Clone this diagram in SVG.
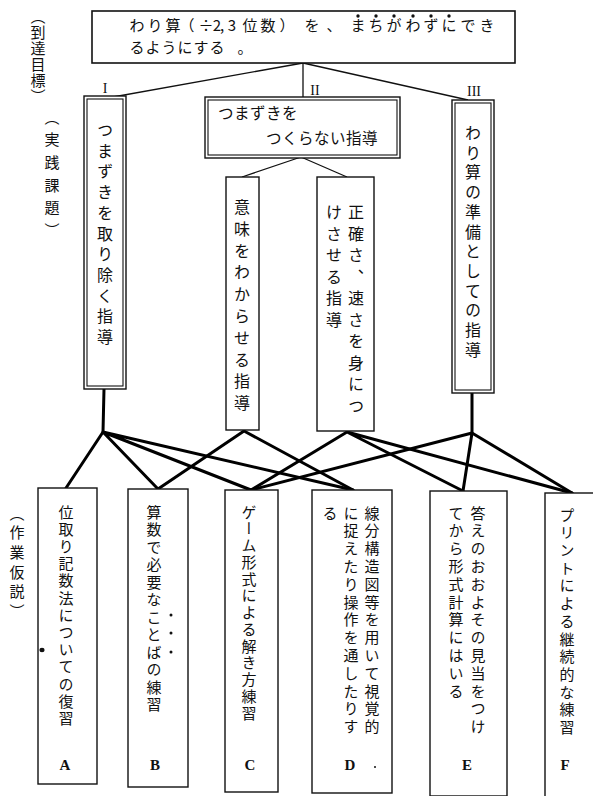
<svg xmlns="http://www.w3.org/2000/svg" width="593" height="796" viewBox="0 0 593 796">
<defs><style>
.box{fill:#fff;stroke:#111;stroke-width:1.4}
.dbl{fill:none;stroke:#111;stroke-width:1.1}
.t{font-family:"Noto Sans CJK JP","Noto Sans CJK SC",sans-serif;font-size:15px;fill:#111;text-anchor:middle}
.h{font-family:"Noto Sans CJK JP","Noto Sans CJK SC",sans-serif;font-size:15.5px;fill:#111}
.v{font-family:"Noto Sans CJK JP","Noto Sans CJK SC",sans-serif;font-size:15px;fill:#111;writing-mode:vertical-rl}
.vb{font-family:"Noto Sans CJK JP","Noto Sans CJK SC",sans-serif;font-size:16px;fill:#111;writing-mode:vertical-rl}
.rn{font-family:"Liberation Serif",serif;font-size:14px;fill:#111;text-anchor:middle}
.lt{font-family:"Liberation Serif",serif;font-size:15px;font-weight:bold;fill:#111;text-anchor:middle}
.thin{stroke:#111;stroke-width:1.3;fill:none}
.thick{stroke:#000;stroke-width:3;fill:none;stroke-linecap:round}
.dot{fill:#111}
</style></defs>
<rect width="593" height="796" fill="#fff"/>

<g id="side-labels">
<text class="v" x="38" y="8.5" style="letter-spacing:1px">（到達目標）</text>
<text class="v" x="52" y="109.5" style="letter-spacing:7.7px">（実践課題）</text>
<text class="v" x="17" y="505.5" style="letter-spacing:4.7px">（作業仮説）</text>
</g>

<g id="connectors">
<path class="thin" d="M303 63 L113 97 M303 63 L303 97 M303 63 L468 100"/>
<path class="thin" d="M301 157 L242 177 M301 157 L347 177"/>
<path class="thick" d="M104 389 L103 432 M472 393 L472 433"/>
<path class="thick" d="M103 432 L66 488 M103 432 L158 489 M103 432 L251 490 M103 432 L353 490"/>
<path class="thick" d="M244 431 L158 489 M244 431 L353 490"/>
<path class="thick" d="M347 432 L251 490 M347 432 L463 491 M347 432 L572 493"/>
<path class="thick" d="M472 433 L251 490 M472 433 L463 491 M472 433 L572 493"/>
</g>

<g id="goal">
<rect class="box" x="92" y="11" width="423" height="52" style="stroke-width:1.6"/>
<text class="t"><tspan y="31" x="137 155 173 187 206 217 222 232 250 268 287 312 334 358 376 394 413 431 449 468 487">わり算（÷2,3位数）を、まちがわずにでき</tspan><tspan y="53" x="137 153 169 185 201 217 245">るようにする。</tspan></text>
<g class="dot">
<circle cx="358" cy="16" r="1.7"/><circle cx="376" cy="16" r="1.7"/><circle cx="394" cy="16" r="1.7"/><circle cx="413" cy="16" r="1.7"/><circle cx="431" cy="16" r="1.7"/><circle cx="449" cy="16" r="1.7"/>
</g>
</g>

<g id="roman">
<text class="rn" x="105" y="93">I</text>
<text class="rn" x="315" y="95">II</text>
<text class="rn" x="474" y="96">III</text>
</g>

<g id="task-1">
<rect class="box" x="84" y="96" width="42" height="293"/>
<rect class="dbl" x="87" y="99" width="36" height="287"/>
<text class="vb" x="105" y="122" style="letter-spacing:4.7px">つまずきを取り除く指導</text>
</g>

<g id="task-2">
<rect class="box" x="205" y="97" width="195" height="61"/>
<rect class="dbl" x="208" y="100" width="189" height="55"/>
<text class="h" x="218" y="119" style="letter-spacing:0.5px">つまずきを</text>
<text class="h" x="266" y="144" style="letter-spacing:0.5px">つくらない指導</text>
</g>

<g id="task-3">
<rect class="box" x="452" y="100" width="42" height="293"/>
<rect class="dbl" x="455" y="103" width="36" height="287"/>
<text class="vb" x="473" y="125" style="letter-spacing:3.7px">わり算の準備としての指導</text>
</g>

<g id="task-2a">
<rect class="box" x="226" y="177" width="33" height="253"/>
<text class="vb" x="242" y="199" style="letter-spacing:5.8px">意味をわからせる指導</text>
</g>

<g id="task-2b">
<rect class="box" x="317" y="177" width="57" height="254"/>
<text class="vb" x="356" y="204" style="letter-spacing:5.5px">正確さ、速さを身につ</text>
<text class="vb" x="334" y="204" style="letter-spacing:5.5px">けさせる指導</text>
</g>

<g id="hyp-A">
<rect class="box" x="38" y="488" width="59" height="296"/>
<text class="v" x="66" y="504.5" style="letter-spacing:2.2px">位取り記数法についての復習</text>
<text class="lt" x="65" y="770">A</text>
<ellipse class="dot" cx="42" cy="650" rx="2.6" ry="2.2"/>
</g>

<g id="hyp-B">
<rect class="box" x="128" y="489" width="60" height="298"/>
<text class="v" x="154" y="504.5" style="letter-spacing:2.5px">算数で必要なことばの練習</text>
<g class="dot"><circle cx="171" cy="615" r="1.5"/><circle cx="171" cy="633" r="1.5"/><circle cx="171" cy="652" r="1.5"/></g>
<text class="lt" x="155" y="770">B</text>
</g>

<g id="hyp-C">
<rect class="box" x="225" y="490" width="53" height="302"/>
<text class="v" x="249" y="504.5" style="letter-spacing:1.75px">ゲーム形式による解き方練習</text>
<text class="lt" x="250" y="770">C</text>
</g>

<g id="hyp-D">
<rect class="box" x="312" y="490" width="80" height="303"/>
<text class="v" x="372" y="505.5" style="letter-spacing:2.8px">線分構造図等を用いて視覚的</text>
<text class="v" x="351" y="505.5" style="letter-spacing:2.8px">に捉えたり操作を通したりす</text>
<text class="v" x="330" y="505.5" style="letter-spacing:2.8px">る</text>
<text class="lt" x="350" y="770">D</text>
<circle class="dot" cx="375" cy="767" r="1"/>
</g>

<g id="hyp-E">
<rect class="box" x="430" y="491" width="77" height="305"/>
<text class="v" x="478" y="505.5" style="letter-spacing:2.8px">答えのおおよその見当をつけ</text>
<text class="v" x="456" y="505.5" style="letter-spacing:2.8px">てから形式計算にはいる</text>
<text class="lt" x="467" y="770">E</text>
</g>

<g id="hyp-F">
<rect class="box" x="545" y="493" width="56" height="310"/>
<text class="v" x="567" y="507.5" style="letter-spacing:2.7px">プリントによる継続的な練習</text>
<text class="lt" x="565" y="770">F</text>
</g>
</svg>
